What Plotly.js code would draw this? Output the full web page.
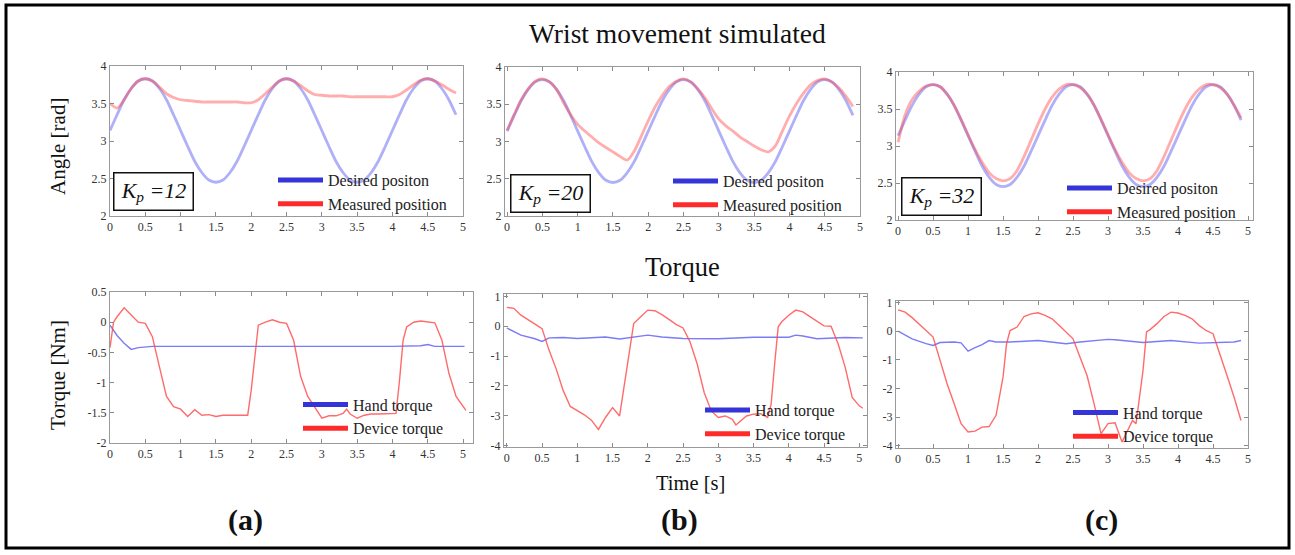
<!DOCTYPE html>
<html>
<head>
<meta charset="utf-8">
<script src="https://cdn.plot.ly/plotly-3.0.1.min.js"></script>
<style>html,body{margin:0;padding:0;background:#fff;}#chart{width:1295px;height:555px;}</style>
</head>
<body>
<div id="chart"></div>
<script>
// ---------------- DATA ----------------
const timeAngle = [0,0.1,0.2,0.3,0.4,0.5,0.6,0.7,0.8,0.9,1.0,1.1,1.2,1.3,1.4,1.5,1.6,1.7,1.8,1.9,
  2.0,2.1,2.2,2.3,2.4,2.5,2.6,2.7,2.8,2.9,3.0,3.1,3.2,3.3,3.4,3.5,3.6,3.7,3.8,3.9,
  4.0,4.1,4.2,4.3,4.4,4.5,4.6,4.7,4.8,4.9];
const desiredAngle = [3.14,3.35,3.55,3.70,3.80,3.83,3.80,3.70,3.55,3.35,3.14,2.93,2.73,2.58,2.48,2.45,2.48,2.58,2.73,2.93,
  3.14,3.35,3.55,3.70,3.80,3.83,3.80,3.70,3.55,3.35,3.14,2.93,2.73,2.58,2.48,2.45,2.48,2.58,2.73,2.93,
  3.14,3.35,3.55,3.70,3.80,3.83,3.80,3.70,3.55,3.35];
const measuredAngleA = [3.50,3.44,3.55,3.70,3.80,3.83,3.80,3.72,3.63,3.58,3.55,3.54,3.53,3.52,3.52,3.52,3.52,3.52,3.52,3.51,
  3.51,3.55,3.63,3.72,3.80,3.83,3.80,3.74,3.67,3.62,3.61,3.60,3.60,3.60,3.59,3.59,3.59,3.59,3.59,3.59,
  3.59,3.62,3.68,3.75,3.81,3.83,3.80,3.75,3.69,3.64];
const measuredAngleB = [3.15,3.36,3.56,3.71,3.81,3.84,3.80,3.70,3.52,3.36,3.23,3.14,3.06,2.98,2.92,2.86,2.80,2.75,2.87,3.07,
  3.28,3.47,3.62,3.74,3.81,3.84,3.80,3.71,3.59,3.44,3.30,3.21,3.14,3.06,3.00,2.94,2.89,2.86,2.94,3.14,
  3.34,3.51,3.65,3.76,3.82,3.84,3.80,3.72,3.61,3.47];
const measuredAngleC = [3.05,3.42,3.63,3.74,3.81,3.83,3.80,3.70,3.55,3.36,3.15,2.95,2.78,2.64,2.56,2.53,2.56,2.67,2.86,3.08,
  3.30,3.50,3.66,3.77,3.83,3.83,3.79,3.70,3.55,3.36,3.15,2.95,2.78,2.64,2.56,2.53,2.56,2.67,2.86,3.08,
  3.30,3.50,3.66,3.77,3.83,3.83,3.79,3.70,3.55,3.38];

const timeHandA = [0,0.1,0.2,0.3,0.4,0.5,0.6,1.0,1.5,2.0,2.5,2.6,3.0,3.5,4.0,4.4,4.5,4.6,5.02];
const handTorqueA = [-0.05,-0.22,-0.35,-0.45,-0.42,-0.41,-0.40,-0.40,-0.40,-0.40,-0.41,-0.40,-0.40,-0.40,-0.40,-0.39,-0.37,-0.40,-0.40];
const timeDevA = [0,0.05,0.1,0.2,0.3,0.4,0.5,0.6,0.7,0.8,0.9,1.0,1.1,1.2,1.3,1.4,1.5,1.6,1.7,1.8,1.95,2.0,2.05,2.1,2.2,2.3,2.4,2.5,2.6,2.7,
  2.8,2.9,3.0,3.1,3.2,3.3,3.35,3.4,3.5,3.6,3.7,3.8,3.9,4.05,4.1,4.15,4.2,4.3,4.4,4.5,4.6,4.7,4.8,4.9,5.0,5.04];
const deviceTorqueA = [-0.42,0.0,0.09,0.24,0.12,0.0,-0.02,-0.24,-0.74,-1.23,-1.40,-1.44,-1.56,-1.45,-1.54,-1.53,-1.56,-1.54,-1.54,-1.54,
  -1.54,-1.12,-0.57,-0.05,0.0,0.04,0.0,-0.02,-0.30,-0.90,-1.23,-1.42,-1.59,-1.55,-1.55,-1.51,-1.44,-1.52,-1.59,-1.54,
  -1.52,-1.52,-1.52,-1.51,-0.96,-0.30,-0.08,0.0,0.02,0.0,-0.01,-0.30,-0.85,-1.23,-1.40,-1.46];

const timeHandB = [0,0.2,0.4,0.5,0.6,0.8,1.0,1.2,1.4,1.6,1.8,2.0,2.2,2.5,3.0,3.5,4.0,4.1,4.2,4.4,4.8,5.05];
const handTorqueB = [-0.06,-0.30,-0.42,-0.51,-0.39,-0.38,-0.41,-0.38,-0.36,-0.43,-0.36,-0.30,-0.36,-0.41,-0.42,-0.37,-0.37,-0.30,-0.33,-0.42,-0.38,-0.39];
const timeDevB = [0,0.1,0.2,0.3,0.4,0.5,0.6,0.7,0.8,0.9,1.0,1.1,1.2,1.3,1.4,1.5,1.6,1.7,1.8,1.9,2.0,2.1,2.2,2.3,2.4,2.5,2.6,2.7,2.8,2.9,
  3.0,3.1,3.2,3.25,3.3,3.4,3.5,3.6,3.7,3.75,3.8,3.85,3.9,4.0,4.1,4.2,4.3,4.4,4.5,4.6,4.7,4.8,4.9,5.0,5.05];
const deviceTorqueB = [0.63,0.60,0.37,0.23,0.07,-0.08,-0.81,-1.43,-2.16,-2.69,-2.82,-2.97,-3.15,-3.46,-3.06,-2.73,-3.01,-1.40,0.09,0.32,
  0.54,0.52,0.39,0.23,0.06,-0.06,-0.53,-1.26,-2.22,-2.84,-3.06,-3.01,-3.12,-3.31,-3.20,-3.01,-2.95,-2.93,-3.06,-2.61,
  -1.26,-0.02,0.15,0.37,0.54,0.48,0.32,0.15,0.01,0.0,-0.59,-1.37,-2.39,-2.67,-2.75];

const timeHandC = [0,0.2,0.4,0.5,0.6,0.8,0.9,1.0,1.1,1.2,1.3,1.4,1.6,2.0,2.4,2.6,3.0,3.1,3.5,3.9,4.3,4.8,4.9];
const handTorqueC = [0.0,-0.27,-0.44,-0.50,-0.40,-0.38,-0.41,-0.70,-0.58,-0.47,-0.33,-0.38,-0.38,-0.33,-0.44,-0.38,-0.29,-0.30,-0.40,-0.33,-0.42,-0.38,-0.33];
const timeDevC = [0,0.1,0.2,0.3,0.4,0.5,0.6,0.7,0.8,0.9,1.0,1.1,1.2,1.3,1.4,1.5,1.55,1.6,1.7,1.8,1.9,2.0,2.1,2.2,2.3,2.4,2.5,
  2.6,2.7,2.8,2.9,3.0,3.1,3.2,3.3,3.35,3.4,3.5,3.55,3.6,3.7,3.8,3.9,4.0,4.1,4.2,4.3,4.4,4.5,4.6,4.7,4.8,4.9];
const deviceTorqueC = [0.74,0.66,0.47,0.26,0.02,-0.21,-1.02,-1.84,-2.53,-3.23,-3.52,-3.49,-3.35,-3.33,-2.94,-1.60,-0.44,
  0.02,0.14,0.51,0.60,0.64,0.55,0.43,0.20,-0.03,-0.27,-0.91,-1.55,-2.53,-3.58,-3.23,-3.20,-3.87,-3.35,-3.12,-3.23,-1.37,-0.03,
  0.05,0.26,0.51,0.66,0.63,0.55,0.43,0.20,0.02,-0.09,-0.79,-1.55,-2.30,-3.12];

const timeTicks = [0,0.5,1,1.5,2,2.5,3,3.5,4,4.5,5];
const timeTickLabels = ['0','0.5','1','1.5','2','2.5','3','3.5','4','4.5','5'];
const angleTicks = [2,2.5,3,3.5,4];
const angleTickLabels = ['2','2.5','3','3.5','4'];
const torqueTicksA = [-2,-1.5,-1,-0.5,0,0.5];
const torqueTickLabelsA = ['-2','-1.5','-1','-0.5','0','0.5'];
const torqueTicksBC = [-4,-3,-2,-1,0,1];
const torqueTickLabelsBC = ['-4','-3','-2','-1','0','1'];
const gainLabels = ['12','20','32'];
const panelLabels = ['(a)','(b)','(c)'];
const angleLegendNames = ['Desired positon','Measured position'];
const torqueLegendNames = ['Hand torque','Device torque'];

// ---------------- LAYOUT HELPERS ----------------
const W = 1295, H = 555;
const px = x => x / W;
const py = y => 1 - y / H;
const SERIF = 'Liberation Serif, Times New Roman, serif';

const blueTop = 'rgba(80,80,240,0.45)';
const redTop = 'rgba(255,60,60,0.42)';
const blueBot = 'rgba(90,90,245,0.8)';
const redBot = 'rgba(255,70,70,0.8)';
const blueLeg = '#3434d8';
const redLeg = '#ff2b2b';

function axisBase(extra) {
  return Object.assign({
    showline: true, mirror: 'ticks', linecolor: '#9a9a9a', linewidth: 1,
    ticks: 'inside', ticklen: 4, tickcolor: '#8a8a8a', tickwidth: 1,
    showgrid: false, zeroline: false, fixedrange: true,
    tickfont: {family: SERIF, size: 12, color: '#333'}
  }, extra);
}
function xAx(x0, x1, r, anchor) {
  return axisBase({domain: [px(x0), px(x1)], range: r, anchor: anchor,
    tickmode: 'array', tickvals: timeTicks, ticktext: timeTickLabels});
}
function yAx(yTop, yBot, r, anchor, tv, tt) {
  return axisBase({domain: [py(yBot), py(yTop)], range: r, anchor: anchor,
    tickmode: 'array', tickvals: tv, ticktext: tt});
}

const traces = [];
function line(x, y, xa, ya, color, width, shape) {
  traces.push({type: 'scatter', mode: 'lines', x: x, y: y, xaxis: xa, yaxis: ya,
    line: {color: color, width: width, shape: shape || 'linear', smoothing: 0.8},
    showlegend: false, hoverinfo: 'skip'});
}
function legendEntry(name, color, xa, ya, legendId) {
  traces.push({type: 'scatter', mode: 'lines', x: [null], y: [null], xaxis: xa, yaxis: ya,
    name: name, legend: legendId, line: {color: color, width: 5}, showlegend: true, hoverinfo: 'skip'});
}

const angleMeasured = [measuredAngleA, measuredAngleB, measuredAngleC];
const topAxes = [['x', 'y'], ['x2', 'y2'], ['x3', 'y3']];
const botAxes = [['x4', 'y4'], ['x5', 'y5'], ['x6', 'y6']];
const topLegIds = ['legend', 'legend2', 'legend3'];
const botLegIds = ['legend4', 'legend5', 'legend6'];
for (let i = 0; i < 3; i++) {
  const [xa, ya] = topAxes[i];
  line(timeAngle, desiredAngle, xa, ya, blueTop, 2.8, 'spline');
  line(timeAngle, angleMeasured[i], xa, ya, redTop, 2.8, 'spline');
  legendEntry(angleLegendNames[0], blueLeg, xa, ya, topLegIds[i]);
  legendEntry(angleLegendNames[1], redLeg, xa, ya, topLegIds[i]);
}
const handT = [[timeHandA, handTorqueA], [timeHandB, handTorqueB], [timeHandC, handTorqueC]];
const devT = [[timeDevA, deviceTorqueA], [timeDevB, deviceTorqueB], [timeDevC, deviceTorqueC]];
for (let i = 0; i < 3; i++) {
  const [xa, ya] = botAxes[i];
  line(handT[i][0], handT[i][1], xa, ya, blueBot, 1.4);
  line(devT[i][0], devT[i][1], xa, ya, redBot, 1.4);
  legendEntry(torqueLegendNames[0], blueLeg, xa, ya, botLegIds[i]);
  legendEntry(torqueLegendNames[1], redLeg, xa, ya, botLegIds[i]);
}

function legendAt(leftX, topY, size) {
  return {x: px(leftX), y: py(topY), xanchor: 'left', yanchor: 'top',
    bgcolor: 'rgba(0,0,0,0)', borderwidth: 0, itemclick: false, itemdoubleclick: false,
    itemwidth: 45,
    font: {family: SERIF, size: size, color: '#222'}, tracegroupgap: 0};
}

function text(t, x, y, size, extra) {
  return Object.assign({text: t, xref: 'paper', yref: 'paper', x: px(x), y: py(y),
    xanchor: 'center', yanchor: 'middle', showarrow: false,
    font: {family: SERIF, size: size, color: '#111'}}, extra || {});
}
const kpBoxes = [[113, 172], [510, 174], [901, 177]];
const panelLabelX = [246, 680, 1101];

const annotations = [
  text('Wrist movement simulated', 677, 33, 27.5),
  text('Torque', 682, 267, 26.5),
  text('Time [s]', 690, 483, 20.5),
  text('Angle [rad]', 58, 146, 21, {textangle: -90}),
  text('Torque [Nm]', 58, 375, 21, {textangle: -90})
];
for (let i = 0; i < 3; i++) {
  annotations.push(text('<i>K<sub>p</sub> =' + gainLabels[i] + '</i>', kpBoxes[i][0], kpBoxes[i][1], 22,
    {xanchor: 'left', yanchor: 'top', width: 74, height: 32, borderpad: 2,
     bordercolor: '#111', borderwidth: 1.5, bgcolor: '#fff', align: 'center'}));
  annotations.push(text('<b>' + panelLabels[i] + '</b>', panelLabelX[i], 520, 30));
}

const layout = {
  width: W, height: H, margin: {l: 0, r: 0, t: 0, b: 0},
  paper_bgcolor: '#fff', plot_bgcolor: '#fff',
  showlegend: true,
  xaxis: xAx(110, 463, [0, 5], 'y'),
  yaxis: yAx(66, 216, [2, 4], 'x', angleTicks, angleTickLabels),
  xaxis2: xAx(505, 860, [-0.03, 5], 'y2'),
  yaxis2: yAx(67, 216, [2, 4], 'x2', angleTicks, angleTickLabels),
  xaxis3: xAx(896, 1253, [-0.03, 5.07], 'y3'),
  yaxis3: yAx(72, 220, [2, 4], 'x3', angleTicks, angleTickLabels),
  xaxis4: xAx(110, 473, [0, 5.14], 'y4'),
  yaxis4: yAx(292, 443, [-2, 0.5], 'x4', torqueTicksA, torqueTickLabelsA),
  xaxis5: xAx(504, 867, [-0.04, 5.11], 'y5'),
  yaxis5: yAx(294, 447, [-4.05, 1.08], 'x5', torqueTicksBC, torqueTickLabelsBC),
  xaxis6: xAx(896, 1248, [-0.03, 5.0], 'y6'),
  yaxis6: yAx(301, 448, [-4.08, 1.05], 'x6', torqueTicksBC, torqueTickLabelsBC),
  legend: legendAt(273, 163, 16),
  legend2: legendAt(668, 164, 16),
  legend3: legendAt(1062, 171, 16),
  legend4: legendAt(298, 387.5, 16),
  legend5: legendAt(700, 393, 16),
  legend6: legendAt(1068, 395.5, 16),
  annotations: annotations,
  shapes: [{type: 'rect', xref: 'paper', yref: 'paper', x0: px(6), x1: px(1289), y0: py(548), y1: py(5),
    line: {color: '#000', width: 3}}]
};

Plotly.newPlot('chart', traces, layout, {staticPlot: true, displayModeBar: false});
</script>
</body>
</html>
